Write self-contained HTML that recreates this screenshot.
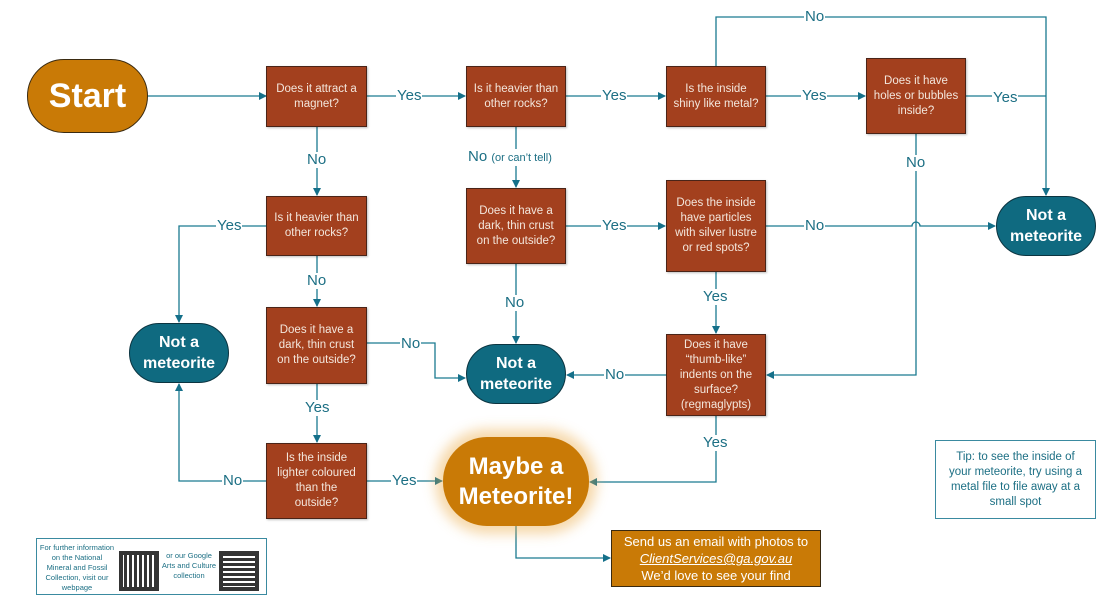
<!DOCTYPE html>
<html><head><meta charset="utf-8"><style>
body{margin:0;width:1119px;height:602px;background:#fff;position:relative;overflow:hidden;font-family:"Liberation Sans",sans-serif}
.b{position:absolute;background:#A3401E;border:1.5px solid #4a2418;box-sizing:border-box;color:#f3e6dc;font-size:11.5px;line-height:15px;text-align:center;display:flex;align-items:center;justify-content:center;box-shadow:1px 1px 2px rgba(0,0,0,.25);padding:0 4px}
.n{position:absolute;background:#0F6A80;border:1.5px solid #0b3440;box-sizing:border-box;color:#fff;font-weight:bold;font-size:16px;line-height:21px;text-align:center;display:flex;align-items:center;justify-content:center;border-radius:32px}
.l{position:absolute;color:#1C6F84;font-size:15px;background:#fff;line-height:16px;padding:0 1px}
svg{position:absolute;left:0;top:0}
</style></head><body>
<svg width="1119" height="602" viewBox="0 0 1119 602">
<defs><marker id="a" markerWidth="8" markerHeight="8" refX="7" refY="4" orient="auto" markerUnits="userSpaceOnUse"><path d="M0,0L8,4L0,8z" fill="#15708a"/></marker></defs>
<g stroke="#1a7a90" stroke-width="1.3" fill="none">
<path d="M148,96H266" marker-end="url(#a)"/>
<path d="M367,96H465" marker-end="url(#a)"/>
<path d="M566,96H665" marker-end="url(#a)"/>
<path d="M766,96H865" marker-end="url(#a)"/>
<path d="M966,96H1046"/>
<path d="M716,66V17H1046V195" marker-end="url(#a)"/>
<path d="M317,126V195" marker-end="url(#a)"/>
<path d="M516,126V187" marker-end="url(#a)"/>
<path d="M267,226H179V322" marker-end="url(#a)"/>
<path d="M317,256V306" marker-end="url(#a)"/>
<path d="M566,226H665" marker-end="url(#a)"/>
<path d="M766,226H912a4,4 0 0 1 8,0H995" marker-end="url(#a)"/>
<path d="M916,134V375H767" marker-end="url(#a)"/>
<path d="M516,264V343" marker-end="url(#a)"/>
<path d="M716,272V333" marker-end="url(#a)"/>
<path d="M367,343H435V378H465" marker-end="url(#a)"/>
<path d="M666,375H567" marker-end="url(#a)"/>
<path d="M317,384V442" marker-end="url(#a)"/>
<path d="M267,481H179V384" marker-end="url(#a)"/>
<path d="M367,481H442" marker-end="url(#a)"/>
<path d="M716,416V482H590" marker-end="url(#a)"/>
<path d="M516,526V558H610" marker-end="url(#a)"/>
</g></svg>
<div style="position:absolute;left:27px;top:59px;width:121px;height:74px;background:#C97A06;border:1.5px solid #3a2a10;box-sizing:border-box;border-radius:37px;color:#fff;font-weight:bold;font-size:34px;display:flex;align-items:center;justify-content:center">Start</div>
<div class="b" style="left:266px;top:66px;width:101px;height:61px">Does it attract a magnet?</div>
<div class="b" style="left:466px;top:66px;width:100px;height:61px">Is it heavier than other rocks?</div>
<div class="b" style="left:666px;top:66px;width:100px;height:61px;padding:0 3px">Is the inside<br>shiny like metal?</div>
<div class="b" style="left:866px;top:58px;width:100px;height:76px">Does it have holes or bubbles inside?</div>
<div class="b" style="left:266px;top:196px;width:101px;height:60px">Is it heavier than other rocks?</div>
<div class="b" style="left:466px;top:188px;width:100px;height:76px;padding:0 6px">Does it have a dark, thin crust on the outside?</div>
<div class="b" style="left:666px;top:180px;width:100px;height:92px">Does the inside have particles with silver lustre or red spots?</div>
<div class="b" style="left:266px;top:307px;width:101px;height:77px;padding:0 6px">Does it have a dark, thin crust on the outside?</div>
<div class="b" style="left:666px;top:334px;width:100px;height:82px">Does it have “thumb-like” indents on the surface? (regmaglypts)</div>
<div class="b" style="left:266px;top:443px;width:101px;height:76px;padding:0 8px">Is the inside lighter coloured than the outside?</div>
<div class="n" style="left:996px;top:196px;width:100px;height:60px">Not a<br>meteorite</div>
<div class="n" style="left:129px;top:323px;width:100px;height:60px">Not a<br>meteorite</div>
<div class="n" style="left:466px;top:344px;width:100px;height:60px">Not a<br>meteorite</div>
<div style="position:absolute;left:443px;top:437px;width:146px;height:89px;background:#C97A06;border-radius:44px;box-shadow:0 0 12px 8px rgba(235,170,70,.45);color:#fff;font-weight:bold;font-size:24px;line-height:30px;text-align:center;display:flex;align-items:center;justify-content:center">Maybe a<br>Meteorite!</div>
<div style="position:absolute;left:611px;top:530px;width:210px;height:57px;background:#C97A06;border:1.5px solid #3a2a10;box-sizing:border-box;color:#fff;font-size:13px;line-height:17px;text-align:center;padding-top:2px">Send us an email with photos to<br><i><u>ClientServices@ga.gov.au</u></i><br>We’d love to see your find</div>
<div style="position:absolute;left:935px;top:440px;width:161px;height:79px;border:1.3px solid #3a8aa0;box-sizing:border-box;color:#1C6F84;font-size:11.5px;line-height:15px;text-align:center;padding:9px 8px 0">Tip: to see the inside of your meteorite, try using a metal file to file away at a small spot</div>
<div style="position:absolute;left:36px;top:538px;width:231px;height:57px;border:1.3px solid #3a8aa0;box-sizing:border-box;color:#1C6F84;font-size:7.5px;line-height:10px">
<div style="position:absolute;left:2px;top:4px;width:76px;text-align:center">For further information on the National Mineral and Fossil Collection, visit our webpage</div>
<div style="position:absolute;left:82px;top:12px;width:40px;height:40px;background:repeating-linear-gradient(90deg,#111 0 3px,#fff 3px 5px),#111;opacity:.85;outline:4px solid #111;outline-offset:-4px"></div>
<div style="position:absolute;left:124px;top:12px;width:56px;text-align:center">or our Google Arts and Culture collection</div>
<div style="position:absolute;left:182px;top:12px;width:40px;height:40px;background:repeating-linear-gradient(0deg,#111 0 3px,#fff 3px 5px);opacity:.85;outline:4px solid #111;outline-offset:-4px"></div>
</div>
<span class="l" style="left:396px;top:88px">Yes</span>
<span class="l" style="left:601px;top:88px">Yes</span>
<span class="l" style="left:801px;top:88px">Yes</span>
<span class="l" style="left:992px;top:90px">Yes</span>
<span class="l" style="left:804px;top:9px">No</span>
<span class="l" style="left:306px;top:152px">No</span>
<span class="l" style="left:467px;top:149px">No <span style="font-size:11px">(or can’t tell)</span></span>
<span class="l" style="left:905px;top:155px">No</span>
<span class="l" style="left:216px;top:218px">Yes</span>
<span class="l" style="left:601px;top:218px">Yes</span>
<span class="l" style="left:804px;top:218px">No</span>
<span class="l" style="left:306px;top:273px">No</span>
<span class="l" style="left:504px;top:295px">No</span>
<span class="l" style="left:702px;top:289px">Yes</span>
<span class="l" style="left:400px;top:336px">No</span>
<span class="l" style="left:604px;top:367px">No</span>
<span class="l" style="left:304px;top:400px">Yes</span>
<span class="l" style="left:702px;top:435px">Yes</span>
<span class="l" style="left:222px;top:473px">No</span>
<span class="l" style="left:391px;top:473px">Yes</span>
</body></html>
